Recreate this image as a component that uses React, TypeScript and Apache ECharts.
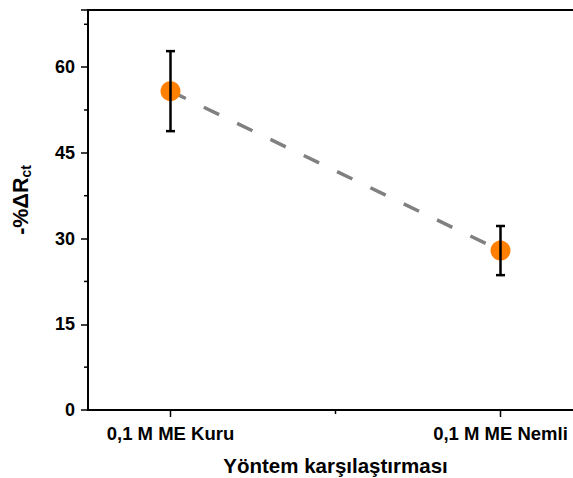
import React, { useEffect, useRef } from "react";
import * as echarts from "echarts";

const categories = ["0,1 M ME Kuru", "0,1 M ME Nemli"];
const xPositions = [1, 2];
const means = [55.8, 27.9];
const errors = [7.0, 4.3];
const yMinorTicks = [7.5, 22.5, 37.5, 52.5, 67.5];
const xMajorTicks = [1, 2];
const xMinorTicks = [1.5];
const X_MIN = 0.75;
const X_MAX = 2.25;

export default function App() {
  const ref = useRef<HTMLDivElement>(null);
  useEffect(() => {
    document.body.style.margin = "0";
    const chart = echarts.init(ref.current!, null, { renderer: "svg" });
    const font = "Liberation Sans, Arial, sans-serif";
    const tickSeries = (data: number[][], dir: "x" | "y", len: number) => ({
      type: "custom",
      silent: true,
      clip: false,
      z: 5,
      data,
      renderItem: (params: any, api: any) => {
        const p = api.coord([api.value(0), api.value(1)]);
        const shape =
          dir === "x"
            ? { x1: p[0], y1: p[1], x2: p[0], y2: p[1] + len }
            : { x1: p[0] - len, y1: p[1], x2: p[0], y2: p[1] };
        return { type: "line", shape, style: { stroke: "#000", lineWidth: 1.5 } };
      },
    });
    chart.setOption({
      animation: false,
      grid: {
        left: 88,
        top: 10,
        width: 495,
        height: 400,
        show: false,
        containLabel: false,
        outerBoundsMode: "none",
      },
      xAxis: [
        {
          type: "value",
          min: X_MIN,
          max: X_MAX,
          interval: 0.25,
          splitLine: { show: false },
          axisTick: { show: false },
          axisLine: { lineStyle: { color: "#000", width: 2 } },
          axisLabel: {
            margin: 14,
            color: "#000",
            fontSize: 18.5,
            fontWeight: "bold",
            fontFamily: font,
            formatter: (v: number) => {
              const i = xPositions.indexOf(Math.round(v * 100) / 100);
              return i >= 0 ? categories[i] : "";
            },
          },
          name: "Yöntem karşılaştırması",
          nameLocation: "middle",
          nameGap: 45,
          nameTextStyle: { color: "#000", fontSize: 20.5, fontWeight: "bold", fontFamily: font },
        },
        {
          type: "value",
          position: "top",
          min: X_MIN,
          max: X_MAX,
          interval: 0.25,
          splitLine: { show: false },
          axisTick: { show: false },
          axisLabel: { show: false },
          axisLine: { show: true, lineStyle: { color: "#000", width: 2 } },
        },
      ],
      yAxis: {
        type: "value",
        min: 0,
        max: 70,
        interval: 15,
        splitLine: { show: false },
        axisLine: { show: true, lineStyle: { color: "#000", width: 2 } },
        axisTick: { show: true, length: 7, lineStyle: { color: "#000", width: 1.5 } },
        axisLabel: {
          margin: 13,
          color: "#000",
          fontSize: 18,
          fontWeight: "bold",
          fontFamily: font,
          formatter: (v: number) => (v % 15 === 0 ? String(v) : ""),
        },
        name: "{a|-%ΔR}{b|ct}",
        nameLocation: "middle",
        nameGap: 56,
        nameRotate: 90,
        nameTextStyle: {
          rich: {
            a: { fontSize: 21.5, fontWeight: "bold", fontFamily: font, color: "#000", lineHeight: 22, verticalAlign: "top", padding: [0, 0, 0, 20] },
            b: { fontSize: 14, fontWeight: "bold", fontFamily: font, color: "#000", lineHeight: 14, padding: [10, 0, 0, 0] },
          },
        },
      },
      series: [
        {
          type: "line",
          data: xPositions.map((x, i) => [x, means[i]]),
          showSymbol: false,
          lineStyle: { color: "#808080", width: 3.5, type: [17, 20] },
          z: 1,
        },
        {
          type: "scatter",
          data: xPositions.map((x, i) => [x, means[i]]),
          symbolSize: 20,
          itemStyle: { color: "#FF8000", opacity: 1 },
          z: 2,
        },
        {
          type: "custom",
          z: 3,
          clip: false,
          encode: { x: 0, y: [1, 2] },
          data: xPositions.map((x, i) => [x, means[i] - errors[i], means[i] + errors[i]]),
          renderItem: (params: any, api: any) => {
            const x = api.value(0);
            const lo = api.coord([x, api.value(1)]);
            const hi = api.coord([x, api.value(2)]);
            const hw = 4.5;
            const st = { stroke: "#000", lineWidth: 2.5 };
            return {
              type: "group",
              children: [
                { type: "line", shape: { x1: lo[0], y1: lo[1], x2: hi[0], y2: hi[1] }, style: st },
                { type: "line", shape: { x1: lo[0] - hw, y1: lo[1], x2: lo[0] + hw, y2: lo[1] }, style: st },
                { type: "line", shape: { x1: hi[0] - hw, y1: hi[1], x2: hi[0] + hw, y2: hi[1] }, style: st },
              ],
            };
          },
        },
        tickSeries(xMajorTicks.map((v) => [v, 0]), "x", 7),
        tickSeries(xMinorTicks.map((v) => [v, 0]), "x", 4),
        tickSeries(yMinorTicks.map((v) => [X_MIN, v]), "y", 4),
      ],
    });
    return () => chart.dispose();
  }, []);
  return (
    <div style={{ width: 573, height: 478, overflow: "hidden", position: "relative" }}>
      <div ref={ref} style={{ width: 620, height: 478 }} />
    </div>
  );
}
